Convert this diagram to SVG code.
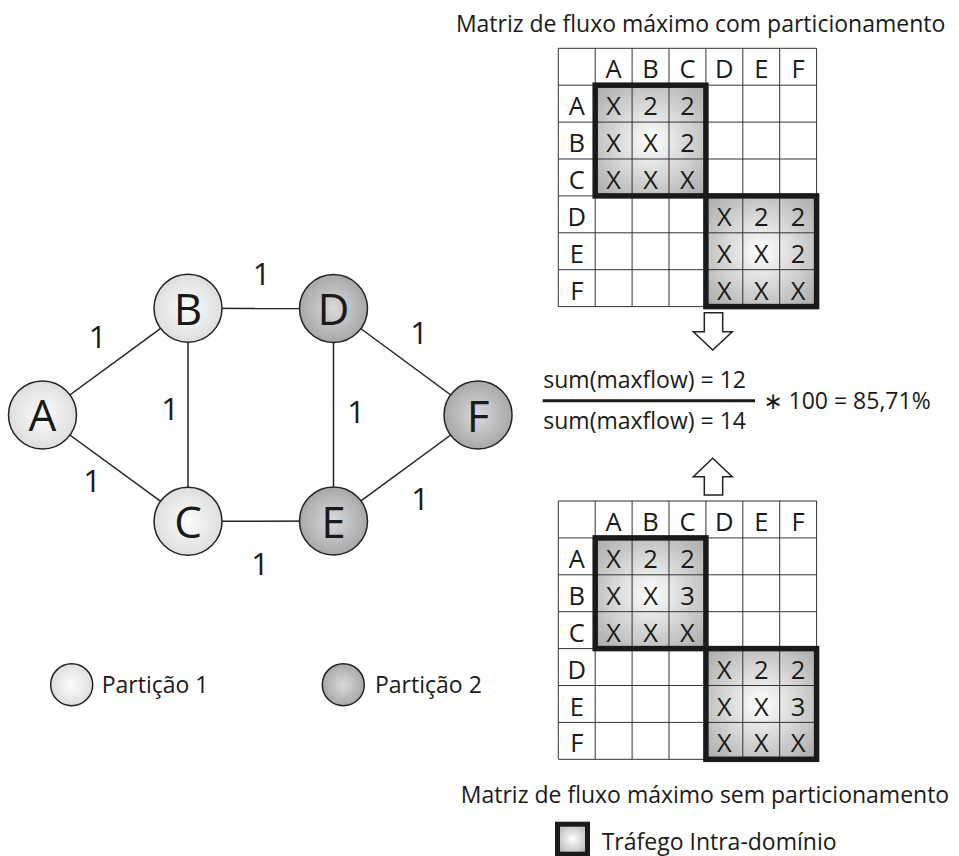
<svg xmlns="http://www.w3.org/2000/svg" width="959" height="856" viewBox="0 0 959 856">
<defs>
<radialGradient id="gLight" cx="0.5" cy="0.5" r="0.5">
<stop offset="0" stop-color="#fcfcfc"/>
<stop offset="1" stop-color="#dedede"/>
</radialGradient>
<radialGradient id="gDark" cx="0.5" cy="0.5" r="0.5">
<stop offset="0" stop-color="#d9d9db"/>
<stop offset="1" stop-color="#a8a8ab"/>
</radialGradient>
<radialGradient id="gBlock" cx="0.5" cy="0.5" r="0.72">
<stop offset="0" stop-color="#ffffff"/>
<stop offset="1" stop-color="#a6a6a6"/>
</radialGradient>
<g id="grid">
<rect x="0" y="0" width="258.3" height="258.3" fill="#ffffff"/>
<rect x="36.9" y="36.9" width="110.7" height="110.7" fill="url(#gBlock)"/>
<rect x="147.6" y="147.6" width="110.7" height="110.7" fill="url(#gBlock)"/>
<path d="M0 0H258.3M0 36.9H258.3M0 73.8H258.3M0 110.7H258.3M0 147.6H258.3M0 184.5H258.3M0 221.4H258.3M0 258.3H258.3M0 0V258.3M36.9 0V258.3M73.8 0V258.3M110.7 0V258.3M147.6 0V258.3M184.5 0V258.3M221.4 0V258.3M258.3 0V258.3" class="thin"/>
<rect x="36.9" y="36.9" width="110.7" height="110.7" class="thick"/>
<rect x="147.6" y="147.6" width="110.7" height="110.7" class="thick"/>
<g class="cell">
<text x="55.35" y="30">A</text><text x="92.25" y="30">B</text><text x="129.15" y="30">C</text>
<text x="166.05" y="30">D</text><text x="202.95" y="30">E</text><text x="239.85" y="30">F</text>
<text x="18.45" y="66.9">A</text><text x="18.45" y="103.8">B</text><text x="18.45" y="140.7">C</text>
<text x="18.45" y="177.6">D</text><text x="18.45" y="214.5">E</text><text x="18.45" y="251.4">F</text>
</g>
</g>
</defs>
<style>
.thin{fill:none;stroke:#333333;stroke-width:1}
.thick{fill:none;stroke:#1a1a1a;stroke-width:5.5}
.cell text{font-family:"Open Sans","DejaVu Sans",sans-serif;font-size:25.5px;fill:#1a1a1a;text-anchor:middle}
.lbl{font-family:"Open Sans","DejaVu Sans",sans-serif;font-size:23px;fill:#1a1a1a}
.edge{stroke:#222222;stroke-width:1.5;fill:none}
.w{font-family:"Open Sans","DejaVu Sans",sans-serif;font-size:31px;fill:#1a1a1a;text-anchor:middle}
.node circle{stroke:#222222;stroke-width:1.5}
.node text{font-family:"Open Sans","DejaVu Sans",sans-serif;font-size:44px;fill:#1a1a1a;text-anchor:middle}
.arrow{fill:#ffffff;stroke:#222222;stroke-width:1.5;stroke-linejoin:miter}
</style>
<rect width="959" height="856" fill="#ffffff"/>

<g id="connectors">
<line class="edge" x1="42.5" y1="415" x2="188" y2="308.3"/>
<line class="edge" x1="42.5" y1="415" x2="188" y2="521.3"/>
<line class="edge" x1="188" y1="308.3" x2="188" y2="521.3"/>
<line class="edge" x1="188" y1="308.3" x2="333.5" y2="308.5"/>
<line class="edge" x1="188" y1="521.3" x2="333.5" y2="521"/>
<line class="edge" x1="333.5" y1="308.5" x2="333.5" y2="521"/>
<line class="edge" x1="333.5" y1="308.5" x2="478" y2="415"/>
<line class="edge" x1="333.5" y1="521" x2="478" y2="415"/>
<text class="w" x="97.5" y="348">1</text>
<text class="w" x="92" y="491.5">1</text>
<text class="w" x="170" y="420">1</text>
<text class="w" x="261.5" y="285">1</text>
<text class="w" x="260" y="575">1</text>
<text class="w" x="356" y="423">1</text>
<text class="w" x="419" y="344">1</text>
<text class="w" x="420" y="510">1</text>
<polygon class="arrow" points="704.3,312.7 722.7,312.7 722.7,331.7 732.3,331.7 712.7,350 693.3,331.7 704.3,331.7"/>
<polygon class="arrow" points="704.3,495 722.7,495 722.7,476.7 732.3,476.7 712.7,458.3 693.3,476.7 704.3,476.7"/>
</g>

<g id="node-A" class="node"><circle cx="42.5" cy="415" r="34" fill="url(#gLight)"/><text x="42.5" y="431">A</text></g>
<g id="node-B" class="node"><circle cx="188" cy="308.3" r="34" fill="url(#gLight)"/><text x="188" y="324.5">B</text></g>
<g id="node-C" class="node"><circle cx="188" cy="521.3" r="34" fill="url(#gLight)"/><text x="188" y="537.5">C</text></g>
<g id="node-D" class="node"><circle cx="333.5" cy="308.5" r="34" fill="url(#gDark)"/><text x="333.5" y="325">D</text></g>
<g id="node-E" class="node"><circle cx="333.5" cy="521" r="34" fill="url(#gDark)"/><text x="333.5" y="537.5">E</text></g>
<g id="node-F" class="node"><circle cx="478" cy="415" r="34" fill="url(#gDark)"/><text x="478" y="431.5">F</text></g>

<g id="legend-partitions">
<circle cx="71.7" cy="684.7" r="21" fill="url(#gLight)" stroke="#222222" stroke-width="1.5"/>
<text class="lbl" x="101.7" y="693.3">Partição 1</text>
<circle cx="343.3" cy="684.7" r="21" fill="url(#gDark)" stroke="#222222" stroke-width="1.5"/>
<text class="lbl" x="375" y="693.3">Partição 2</text>
</g>

<g id="matrix-top">
<text class="lbl" x="700.6" y="31.7" text-anchor="middle">Matriz de fluxo máximo com particionamento</text>
<g transform="translate(558.3,48.3)">
<use href="#grid"/>
<g class="cell">
<text x="55.35" y="66.9">X</text><text x="92.25" y="66.9">2</text><text x="129.15" y="66.9">2</text>
<text x="55.35" y="103.8">X</text><text x="92.25" y="103.8">X</text><text x="129.15" y="103.8">2</text>
<text x="55.35" y="140.7">X</text><text x="92.25" y="140.7">X</text><text x="129.15" y="140.7">X</text>
<text x="166.05" y="177.6">X</text><text x="202.95" y="177.6">2</text><text x="239.85" y="177.6">2</text>
<text x="166.05" y="214.5">X</text><text x="202.95" y="214.5">X</text><text x="239.85" y="214.5">2</text>
<text x="166.05" y="251.4">X</text><text x="202.95" y="251.4">X</text><text x="239.85" y="251.4">X</text>
</g>
</g>
</g>

<g id="formula">
<text class="lbl" x="543.3" y="388.3">sum(maxflow) = 12</text>
<line x1="542.7" y1="400.7" x2="755" y2="400.7" stroke="#1a1a1a" stroke-width="3"/>
<text class="lbl" x="543.3" y="429.3">sum(maxflow) = 14</text>
<text class="lbl" x="763.3" y="409.3">∗ 100 = 85,71%</text>
</g>

<g id="matrix-bottom">
<g transform="translate(558.3,501)">
<use href="#grid"/>
<g class="cell">
<text x="55.35" y="66.9">X</text><text x="92.25" y="66.9">2</text><text x="129.15" y="66.9">2</text>
<text x="55.35" y="103.8">X</text><text x="92.25" y="103.8">X</text><text x="129.15" y="103.8">3</text>
<text x="55.35" y="140.7">X</text><text x="92.25" y="140.7">X</text><text x="129.15" y="140.7">X</text>
<text x="166.05" y="177.6">X</text><text x="202.95" y="177.6">2</text><text x="239.85" y="177.6">2</text>
<text x="166.05" y="214.5">X</text><text x="202.95" y="214.5">X</text><text x="239.85" y="214.5">3</text>
<text x="166.05" y="251.4">X</text><text x="202.95" y="251.4">X</text><text x="239.85" y="251.4">X</text>
</g>
</g>
<text class="lbl" x="705" y="803.3" text-anchor="middle">Matriz de fluxo máximo sem particionamento</text>
</g>

<g id="legend-intra">
<rect x="557.5" y="824.2" width="30" height="30" fill="url(#gBlock)" stroke="#1a1a1a" stroke-width="5"/>
<text class="lbl" x="601.7" y="850">Tráfego Intra-domínio</text>
</g>
</svg>
